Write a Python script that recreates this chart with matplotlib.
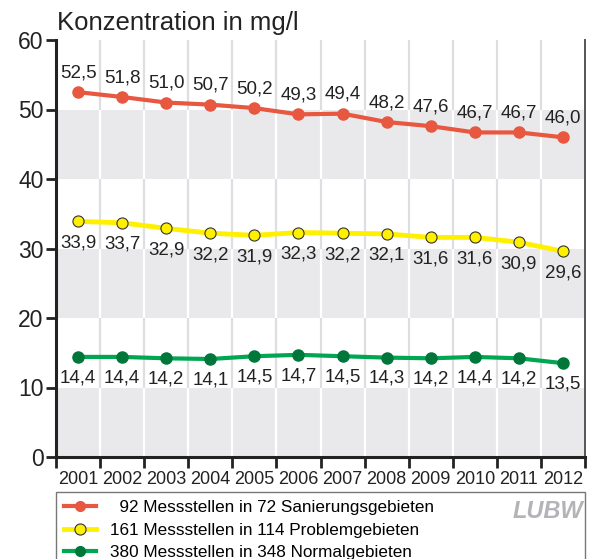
import matplotlib.pyplot as plt
from matplotlib.lines import Line2D
from matplotlib.patches import Rectangle

plt.rcParams['font.family'] = ['Liberation Sans', 'DejaVu Sans']

years = list(range(2001, 2013))
sanierung = [52.5, 51.8, 51.0, 50.7, 50.2, 49.3, 49.4, 48.2, 47.6, 46.7, 46.7, 46.0]
problem = [33.9, 33.7, 32.9, 32.2, 31.9, 32.3, 32.2, 32.1, 31.6, 31.6, 30.9, 29.6]
normal = [14.4, 14.4, 14.2, 14.1, 14.5, 14.7, 14.5, 14.3, 14.2, 14.4, 14.2, 13.5]
legend_labels = ['  92 Messstellen in 72 Sanierungsgebieten',
                 '161 Messstellen in 114 Problemgebieten',
                 '380 Messstellen in 348 Normalgebieten']

red = '#e8573f'
yellow = '#fff000'
green = '#00a651'
green_dark = '#00773a'

fig = plt.figure(figsize=(5.9, 5.59), dpi=100)
ax = fig.add_axes([56/590, 1 - 457/559, 529/590, 417/559])

# grey bands + vertical separators
bounds = [y + 0.5 for y in years[:-1]]
for lo in range(0, 60, 10):
    if lo % 20 == 0:
        ax.axhspan(lo, lo + 10, color='#e9e9eb', lw=0, zorder=0)
        ax.vlines(bounds, lo, lo + 10, color='white', lw=1.6, zorder=1)
    else:
        ax.vlines(bounds, lo, lo + 10, color='#dedee2', lw=1.6, zorder=1)

# series
ax.plot(years, sanierung, color=red, lw=3, marker='o', ms=8, mfc=red, mec=red, zorder=3)
ax.plot(years, problem, color=yellow, lw=3.5, marker='o', ms=8, mfc=yellow, mec='#333333', mew=0.8, zorder=3)
ax.plot(years, normal, color=green, lw=3, marker='o', ms=8, mfc=green_dark, mec=green_dark, zorder=3)

def fmt(v):
    return f'{v:.1f}'.replace('.', ',')

for x, v in zip(years, sanierung):
    ax.annotate(fmt(v), (x, v), xytext=(0, 14), textcoords='offset points',
                ha='center', va='center', fontsize=13.5, color='#222222')
for x, v in zip(years, problem):
    ax.annotate(fmt(v), (x, v), xytext=(0, -15.5), textcoords='offset points',
                ha='center', va='center', fontsize=13.5, color='#222222')
for x, v in zip(years, normal):
    ax.annotate(fmt(v), (x, v), xytext=(0, -15), textcoords='offset points',
                ha='center', va='center', fontsize=13.5, color='#222222')

ax.set_xlim(2000.5, 2012.5)
ax.set_ylim(0, 60)
ax.set_yticks(range(0, 61, 10))
ax.tick_params(axis='y', length=7, width=2, direction='out', labelsize=16.5, pad=2, colors='#222222')
ax.set_xticks([2000.5] + bounds + [2012.5])
ax.set_xticklabels([])
ax.tick_params(axis='x', which='major', length=8, width=2, direction='out', color='#222222')
ax.set_xticks(years, minor=True)
ax.set_xticklabels([str(y) for y in years], minor=True)
ax.tick_params(axis='x', which='minor', length=0, labelsize=13, pad=10, labelcolor='#222222')

ax.spines['top'].set_visible(False)
ax.spines['left'].set_linewidth(2.2)
ax.spines['bottom'].set_linewidth(2.2)
ax.spines['left'].set_color('#222222')
ax.spines['bottom'].set_color('#222222')
ax.spines['right'].set_linewidth(1.4)
ax.spines['right'].set_color('#555555')

fig.text(57/590, 1 - 23/559, 'Konzentration in mg/l', fontsize=18.5, va='center', ha='left', color='#222222')

# legend box
fig.patches.append(Rectangle((56/590, -0.05), 529/590, 0.05 + 1 - 492/559,
                             transform=fig.transFigure, fill=False, ec='#777777', lw=1))
handles = [
    Line2D([], [], color=red, lw=3, marker='o', ms=7, mfc=red, mec=red),
    Line2D([], [], color=yellow, lw=3.5, marker='o', ms=8, mfc=yellow, mec='#333333', mew=0.8),
    Line2D([], [], color=green, lw=3, marker='o', ms=7, mfc=green_dark, mec=green_dark),
]
fig.legend(handles, legend_labels, loc='upper left', bbox_to_anchor=(64/590, 1 - 500/559),
           frameon=False, fontsize=12.3, handlelength=1.9, handletextpad=0.8,
           labelspacing=0.45, borderpad=0, borderaxespad=0)
fig.text(548/590, 1 - 511/559, 'LUBW', fontsize=17, fontweight='bold', style='italic',
         color='#b4b4b8', ha='center', va='center')

fig.savefig('out.png', dpi=100)
